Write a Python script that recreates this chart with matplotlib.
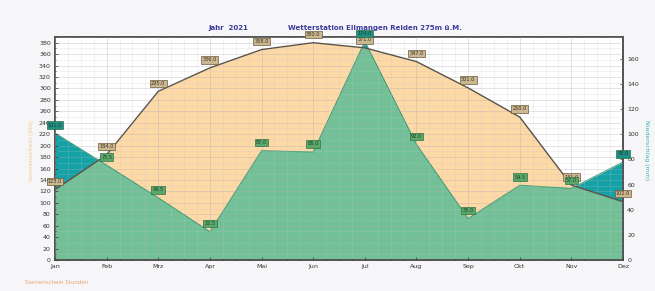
import numpy as np
import matplotlib
matplotlib.use("Agg")
import matplotlib.pyplot as plt
from matplotlib.ticker import MultipleLocator

months = ["Jan", "Feb", "Mrz", "Apr", "Mai", "Jun", "Jul", "Aug", "Sep", "Okt", "Nov", "Dez"]
sunshine = [123.0, 184.0, 295.0, 336.0, 368.0, 380.0, 371.0, 347.0, 301.0, 250.0, 131.0, 102.0]
rain = [101.0, 75.5, 49.5, 22.5, 87.0, 86.0, 174.0, 92.0, 33.0, 59.5, 57.0, 78.0]

title_left = "Jahr  2021"
title_right = "Wetterstation Ellmangen Reiden 275m ü.M."
left_label = "Sonnenschein (Std)"
right_label = "Niederschlag (mm)"
foot_label = "Sonnenschein Stunden"

LEFT_MAX = 390
RIGHT_MAX = 177.5

C_ORANGE = "#fdd9a6"
C_GREEN = "#72c196"
C_TEAL = "#14a2a6"

fig = plt.figure(figsize=(6.55, 2.91), dpi=100, facecolor="#f6f6f8")
ax = fig.add_axes([55 / 655, 31 / 291, 568 / 655, 223 / 291])
ax2 = ax.twinx()

x = np.arange(len(months))

ax.set_xlim(0, len(months) - 1)
ax.set_ylim(0, LEFT_MAX)
ax2.set_ylim(0, RIGHT_MAX)

# fills live in ax2 (drawn first), grid + line + labels in ax on top
ax2.set_zorder(1)
ax.set_zorder(2)
ax.patch.set_visible(False)
ax2.patch.set_visible(True)
ax2.patch.set_facecolor("white")

orange = ax2.fill_between(x, 0, sunshine, color=C_ORANGE, lw=0, zorder=1,
                          transform=ax.transData)
ax2.fill_between(x, 0, rain, color=C_TEAL, lw=0, zorder=2)
green = ax2.fill_between(x, 0, rain, color=C_GREEN, lw=0, zorder=3)
green.set_clip_path(orange.get_paths()[0], ax.transData)
ax2.plot(x, rain, color="#3f9a72", lw=0.7, zorder=4)

ax.plot(x, sunshine, color="#5b5348", lw=1.0, zorder=4)

ax.set_xticks(x)
ax.set_xticklabels(months)
ax.xaxis.set_minor_locator(MultipleLocator(0.25))
ax.yaxis.set_minor_locator(MultipleLocator(10))
ax.set_yticks(np.arange(0, 381, 20))
ax2.set_yticks(np.arange(0, 161, 20))

for a in (ax, ax2):
    a.tick_params(labelsize=4.5, colors="#333333", length=2, width=0.5, pad=3, direction="in")
    a.tick_params(which="minor", length=1, width=0.4, direction="in")
    for s in a.spines.values():
        s.set_color("#555555")
        s.set_linewidth(1.4)

ax.grid(which="major", color="#a8a8b8", lw=0.5, alpha=0.45, zorder=2)
ax.grid(which="minor", color="#c4c4d0", lw=0.4, alpha=0.35, zorder=2)
ax.set_axisbelow(False)

# value labels
for xi, v in zip(x, sunshine):
    ax.annotate(f"{v:.1f}", (xi, v), xytext=(0, 4), textcoords="offset points",
                ha="center", va="bottom", fontsize=3.6, color="#3a3020", zorder=6,
                annotation_clip=False,
                bbox=dict(boxstyle="square,pad=0.25", fc="#cbb892", ec="#6b5a3a", lw=0.5))

for xi, v, s in zip(x, rain, sunshine):
    above = v / RIGHT_MAX > s / LEFT_MAX
    fc = "#1f8f84" if above else "#5aa96a"
    ax.annotate(f"{v:.1f}", (xi, v), xycoords=ax2.transData, xytext=(0, 4),
                textcoords="offset points",
                ha="center", va="bottom", fontsize=3.6, color="#1f3f2a", zorder=6,
                annotation_clip=False,
                bbox=dict(boxstyle="square,pad=0.25", fc=fc, ec="#2f6f4a", lw=0.5))

fig.text(228 / 655, 1 - 28 / 291, title_left, ha="center", va="center",
         fontsize=5, color="#3b3b9e", fontweight="bold")
fig.text(375 / 655, 1 - 28 / 291, title_right, ha="center", va="center",
         fontsize=5, color="#3b3b9e", fontweight="bold")
fig.text(31 / 655, 1 - 150 / 291, left_label, rotation=90, ha="center", va="center",
         fontsize=4.5, color="#f5c890")
fig.text(647 / 655, 1 - 150 / 291, right_label, rotation=270, ha="center", va="center",
         fontsize=4.5, color="#39b5b0")
fig.text(25 / 655, 1 - 283 / 291, foot_label, ha="left", va="center",
         fontsize=4, color="#f2a070")

fig.savefig("out.png", dpi=100, facecolor=fig.get_facecolor())
